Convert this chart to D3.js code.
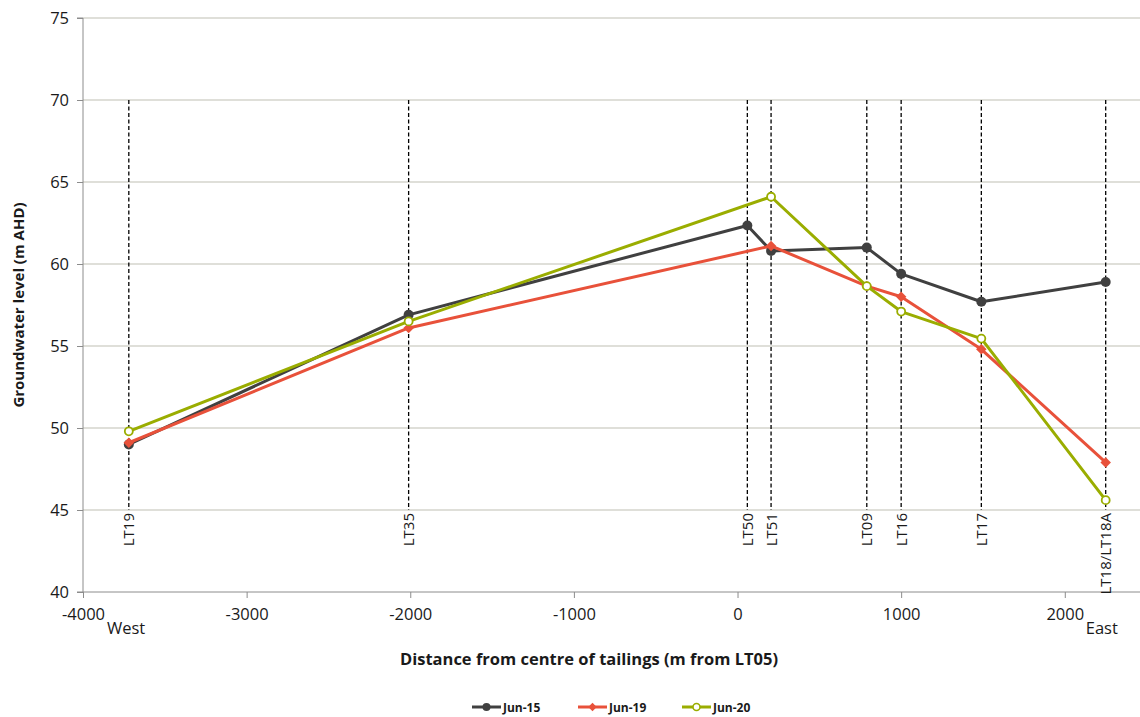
<!DOCTYPE html>
<html>
<head>
<meta charset="utf-8">
<script src="https://cdn.jsdelivr.net/npm/d3@7"></script>
<style>
  body { margin: 0; background: #fff; }
  svg { display: block; font-family: "Open Sans", "DejaVu Sans", sans-serif; }
</style>
</head>
<body>
<div class="chart"></div>
<script>
// Groundwater profile across the tailings
var wells = ["LT19", "LT35", "LT50", "LT51", "LT09", "LT16", "LT17", "LT18/LT18A"];
var wellDist = [-3720, -2010, 60, 205, 790, 1000, 1490, 2250];

var seriesNames = ["Jun-15", "Jun-19", "Jun-20"];
var jun15 = [49.0, 56.9, 62.35, 60.8, 61.0, 59.4, 57.7, 58.9];
var jun19 = [49.1, 56.1, null, 61.1, 58.65, 58.0, 54.8, 47.9];
var jun20 = [49.8, 56.5, null, 64.1, 58.65, 57.1, 55.45, 45.6];

var xTicks = [-4000, -3000, -2000, -1000, 0, 1000, 2000];
var yTicks = [40, 45, 50, 55, 60, 65, 70, 75];

var svgWidth = 1140;
var svgHeight = 717;

var svg = d3.select(".chart")
    .append("svg")
    .attr("width", svgWidth)
    .attr("height", svgHeight);

var xScale = d3.scaleLinear().domain([-4000, 2500]).range([83, 1146.6]);
var yScale = d3.scaleLinear().domain([40, 75]).range([592, 18]);

// horizontal gridlines
svg.append("g")
    .selectAll("line")
    .data(yTicks.slice(1))
    .enter()
    .append("line")
    .attr("x1", xScale(-4000))
    .attr("x2", svgWidth)
    .attr("y1", function(d) { return yScale(d); })
    .attr("y2", function(d) { return yScale(d); })
    .attr("stroke", "#d4d4cc")
    .attr("stroke-width", 1.3);

// y axis
var leftAxis = d3.axisLeft(yScale).tickValues(yTicks).tickSize(6).tickPadding(8);
var yAxis = svg.append("g")
    .attr("transform", "translate(" + xScale(-4000) + ",0)")
    .call(leftAxis);
yAxis.select(".domain").attr("stroke", "#8c8c8c").attr("d", "M-6,18H0V592H-6");
yAxis.selectAll(".tick line").attr("stroke", "#8c8c8c");
yAxis.selectAll(".tick text")
    .style("font-size", "16.5px")
    .style("fill", "#1a1a1a")
    .style("font-family", "'Open Sans', sans-serif");

// x axis (plain hyphen for negatives, as in the original)
var bottomAxis = d3.axisBottom(xScale).tickValues(xTicks).tickSize(6).tickPadding(10)
    .tickFormat(function(d) { return String(d); });
var xAxis = svg.append("g")
    .attr("transform", "translate(0," + yScale(40) + ")")
    .call(bottomAxis);
xAxis.select(".domain").attr("stroke", "#8c8c8c").attr("d", "M83,0H1140");
xAxis.selectAll(".tick line").attr("stroke", "#8c8c8c");
xAxis.selectAll(".tick text")
    .style("font-size", "16.5px")
    .style("fill", "#1a1a1a")
    .style("font-family", "'Open Sans', sans-serif");

// West / East labels
svg.append("text")
    .attr("x", xScale(-4000) + 24)
    .attr("y", 634)
    .style("font-size", "16.5px")
    .style("fill", "#1a1a1a")
    .text("West");
svg.append("text")
    .attr("x", xScale(2000) + 21)
    .attr("y", 634)
    .style("font-size", "16.5px")
    .style("fill", "#1a1a1a")
    .text("East");

// well lines (dashed) and labels
svg.append("g")
    .selectAll("line")
    .data(wellDist)
    .enter()
    .append("line")
    .attr("x1", function(d) { return xScale(d); })
    .attr("x2", function(d) { return xScale(d); })
    .attr("y1", yScale(70))
    .attr("y2", yScale(45))
    .attr("stroke", "#000")
    .attr("stroke-width", 1.3)
    .attr("stroke-dasharray", "4,2.5");

svg.append("g")
    .selectAll("text")
    .data(wells)
    .enter()
    .append("text")
    .attr("transform", function(d, i) {
        return "translate(" + (xScale(wellDist[i]) + 5.5) + "," + (yScale(45) + 3) + ") rotate(-90)";
    })
    .attr("text-anchor", "end")
    .style("font-size", "15px")
    .style("fill", "#1a1a1a")
    .text(function(d) { return d; });

// series
var colors = ["#404040", "#e8513a", "#9aad00"];
var allSeries = [jun15, jun19, jun20];

var line = d3.line()
    .x(function(d) { return xScale(d.x); })
    .y(function(d) { return yScale(d.v); });

allSeries.forEach(function(values, s) {
    var pts = values.map(function(v, i) { return { x: wellDist[i], v: v }; })
        .filter(function(d) { return d.v !== null; });

    svg.append("path")
        .datum(pts)
        .attr("fill", "none")
        .attr("stroke", colors[s])
        .attr("stroke-width", 3)
        .attr("stroke-linejoin", "round")
        .attr("d", line);

    var g = svg.append("g");
    if (s === 0) {
        g.selectAll("circle").data(pts).enter().append("circle")
            .attr("cx", function(d) { return xScale(d.x); })
            .attr("cy", function(d) { return yScale(d.v); })
            .attr("r", 5)
            .attr("fill", colors[s]);
    } else if (s === 1) {
        g.selectAll("path").data(pts).enter().append("path")
            .attr("d", d3.symbol().type(d3.symbolDiamond2).size(70))
            .attr("transform", function(d) {
                return "translate(" + xScale(d.x) + "," + yScale(d.v) + ")";
            })
            .attr("fill", colors[s]);
    } else {
        g.selectAll("circle").data(pts).enter().append("circle")
            .attr("cx", function(d) { return xScale(d.x); })
            .attr("cy", function(d) { return yScale(d.v); })
            .attr("r", 4)
            .attr("fill", "#fff")
            .attr("stroke", colors[s])
            .attr("stroke-width", 1.8);
    }
});

// axis titles
svg.append("text")
    .attr("transform", "translate(24," + ((yScale(40) + yScale(75)) / 2) + ") rotate(-90)")
    .attr("text-anchor", "middle")
    .style("font-size", "15px")
    .style("font-weight", "bold")
    .style("fill", "#1a1a1a")
    .text("Groundwater level (m AHD)");

svg.append("text")
    .attr("x", 589)
    .attr("y", 665)
    .attr("text-anchor", "middle")
    .style("font-size", "16.5px")
    .style("font-weight", "bold")
    .style("fill", "#1a1a1a")
    .text("Distance from centre of tailings (m from LT05)");

// legend
var legendX = [472, 578, 682];
seriesNames.forEach(function(name, s) {
    var lg = svg.append("g").attr("transform", "translate(" + legendX[s] + ",707)");
    lg.append("line")
        .attr("x1", 0).attr("x2", 29)
        .attr("stroke", colors[s]).attr("stroke-width", 3);
    if (s === 0) {
        lg.append("circle").attr("cx", 14.5).attr("r", 4).attr("fill", colors[s]);
    } else if (s === 1) {
        lg.append("path")
            .attr("d", d3.symbol().type(d3.symbolDiamond2).size(45))
            .attr("transform", "translate(14.5,0)")
            .attr("fill", colors[s]);
    } else {
        lg.append("circle").attr("cx", 14.5).attr("r", 3.5)
            .attr("fill", "#fff").attr("stroke", colors[s]).attr("stroke-width", 1.6);
    }
    lg.append("text")
        .attr("x", 31)
        .attr("y", 4.5)
        .style("font-size", "12px")
        .style("font-weight", "bold")
        .style("fill", "#1a1a1a")
        .text(name);
});
</script>
</body>
</html>
